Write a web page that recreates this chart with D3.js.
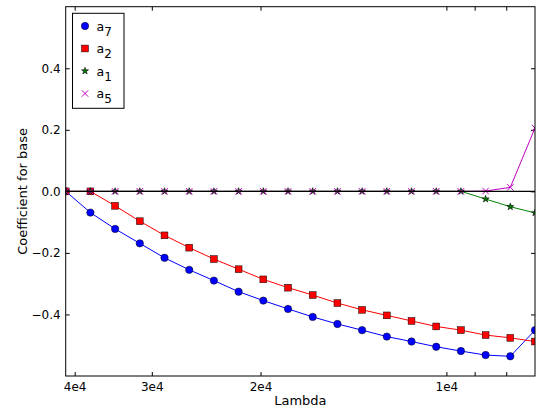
<!DOCTYPE html>
<html>
<head>
<meta charset="utf-8">
<script src="https://cdn.jsdelivr.net/npm/d3@7"></script>
<style>
  html, body { margin: 0; padding: 0; background: #fff; }
  svg { display: block; font-family: "DejaVu Sans", sans-serif; }
</style>
</head>
<body>
<svg id="chart" width="541" height="408"></svg>
<script>
// ---- data ----
const lambdas = [41360, 37720, 34400, 31373, 28612, 26094, 23798, 21703, 19793, 18051,
                 16463, 15014, 13693, 12488, 11389, 10387, 9473, 8639, 7879, 7186];
const a7 = [0.000, -0.069, -0.122, -0.169, -0.216, -0.255, -0.290, -0.326, -0.355, -0.382,
            -0.408, -0.431, -0.451, -0.472, -0.488, -0.505, -0.519, -0.532, -0.536, -0.451];
const a2 = [0.000, 0.000, -0.047, -0.097, -0.143, -0.183, -0.220, -0.253, -0.286, -0.313,
            -0.337, -0.363, -0.385, -0.403, -0.421, -0.439, -0.451, -0.467, -0.476, -0.488];
const a1 = [0, 0, 0, 0, 0, 0, 0, 0, 0, 0, 0, 0, 0, 0, 0, 0, 0, -0.025, -0.050, -0.070];
const a5 = [0, 0, 0, 0, 0, 0, 0, 0, 0, 0, 0, 0, 0, 0, 0, 0, 0, 0.001, 0.013, 0.206];
const xTickValues = [40000, 30000, 20000, 10000, 9000, 8000];
const xTickLabels = ["4e4", "3e4", "2e4", "1e4", "", ""];
const yTickValues = [-0.4, -0.2, 0.0, 0.2, 0.4];
const yTickLabels = ["\u22120.4", "\u22120.2", "0.0", "0.2", "0.4"];
const yDomain = [-0.6, 0.6];
const seriesNames = ["7", "2", "1", "5"];
const seriesColors = ["#0000ff", "#ff0000", "#008000", "#bf00bf"];
const seriesMarkers = ["circle", "square", "star", "x"];

// ---- layout ----
const L = 65.7, R = 535, T = 6.7, B = 376;
const svg = d3.select("#chart");

const x = d3.scaleLog().domain([d3.max(lambdas), d3.min(lambdas)]).range([L, R]);
const y = d3.scaleLinear().domain(yDomain).range([B, T]);

svg.append("defs").append("clipPath").attr("id", "clip")
  .append("rect").attr("x", L).attr("y", T).attr("width", R - L).attr("height", B - T);

// ---- axes ----
function styleAxis(g) {
  g.select(".domain").remove();
  g.selectAll(".tick line").attr("stroke", "#000").attr("stroke-width", 1);
  g.selectAll(".tick text").attr("fill", "#000").style("font-size", "12px")
    .style("font-family", "'DejaVu Sans', sans-serif");
}
const xFmt = v => xTickLabels[xTickValues.indexOf(v)];
const yFmt = v => yTickLabels[yTickValues.indexOf(v)];

svg.append("g").attr("transform", `translate(0,${B})`)
  .call(d3.axisBottom(x).tickValues(xTickValues).tickFormat(xFmt).tickSize(-4).tickPadding(6))
  .call(styleAxis);
svg.append("g").attr("transform", `translate(0,${T})`)
  .call(d3.axisTop(x).tickValues(xTickValues).tickFormat(() => "").tickSize(-4))
  .call(styleAxis);
svg.append("g").attr("transform", `translate(${L},0)`)
  .call(d3.axisLeft(y).tickValues(yTickValues).tickFormat(yFmt).tickSize(-4).tickPadding(5))
  .call(styleAxis);
svg.append("g").attr("transform", `translate(${R},0)`)
  .call(d3.axisRight(y).tickValues(yTickValues).tickFormat(() => "").tickSize(-4))
  .call(styleAxis);

// ---- data ----
const plot = svg.append("g").attr("clip-path", "url(#clip)");
const allSeries = [a7, a2, a1, a5];

function drawMarker(g, type, color, cx, cy) {
  if (type === "circle") {
    g.append("circle").attr("cx", cx).attr("cy", cy).attr("r", 3.7)
      .attr("fill", color).attr("stroke", "#000").attr("stroke-width", 0.5);
  } else if (type === "square") {
    g.append("rect").attr("x", cx - 3.4).attr("y", cy - 3.4).attr("width", 6.8).attr("height", 6.8)
      .attr("fill", color).attr("stroke", "#000").attr("stroke-width", 0.5);
  } else if (type === "star") {
    g.append("path").attr("d", d3.symbol(d3.symbolStar, 15)())
      .attr("transform", `translate(${cx},${cy})`)
      .attr("fill", color).attr("stroke", "#000").attr("stroke-width", 0.6);
  } else {
    const s = 3.2;
    g.append("path").attr("d", `M${cx - s},${cy - s}L${cx + s},${cy + s}M${cx - s},${cy + s}L${cx + s},${cy - s}`)
      .attr("stroke", color).attr("stroke-width", 1).attr("fill", "none");
  }
}

const line = d3.line().x((d, i) => x(lambdas[i])).y(d => y(d));
allSeries.forEach((vals, k) => {
  const g = plot.append("g");
  g.append("path").attr("d", line(vals)).attr("fill", "none")
    .attr("stroke", seriesColors[k]).attr("stroke-width", 1);
  vals.forEach((v, i) => drawMarker(g, seriesMarkers[k], seriesColors[k], x(lambdas[i]), y(v)));
});

// zero line
plot.append("line").attr("x1", L).attr("x2", R).attr("y1", y(0)).attr("y2", y(0))
  .attr("stroke", "#000").attr("stroke-width", 1.3);

// frame
svg.append("rect").attr("x", L).attr("y", T).attr("width", R - L).attr("height", B - T)
  .attr("fill", "none").attr("stroke", "#000").attr("stroke-width", 1);

// ---- labels ----
svg.append("text").attr("x", (L + R) / 2).attr("y", 405).attr("text-anchor", "middle")
  .style("font-size", "13px").text("Lambda");
svg.append("text").attr("transform", `translate(27,${(T + B) / 2}) rotate(-90)`)
  .attr("text-anchor", "middle").style("font-size", "13px").text("Coefficient for base");

// ---- legend ----
const lg = svg.append("g");
lg.append("rect").attr("x", 72.5).attr("y", 13.3).attr("width", 51.5).attr("height", 95)
  .attr("fill", "#fff").attr("stroke", "#000").attr("stroke-width", 1);
seriesNames.forEach((name, k) => {
  const cy = 26 + 22.5 * k;
  drawMarker(lg, seriesMarkers[k], seriesColors[k], 85, cy);
  const t = lg.append("text").attr("x", 96.5).attr("y", cy + 4.5).style("font-size", "12.5px");
  t.append("tspan").text("a");
  t.append("tspan").attr("dy", 5).style("font-size", "12px").text(name);
});
</script>
</body>
</html>
